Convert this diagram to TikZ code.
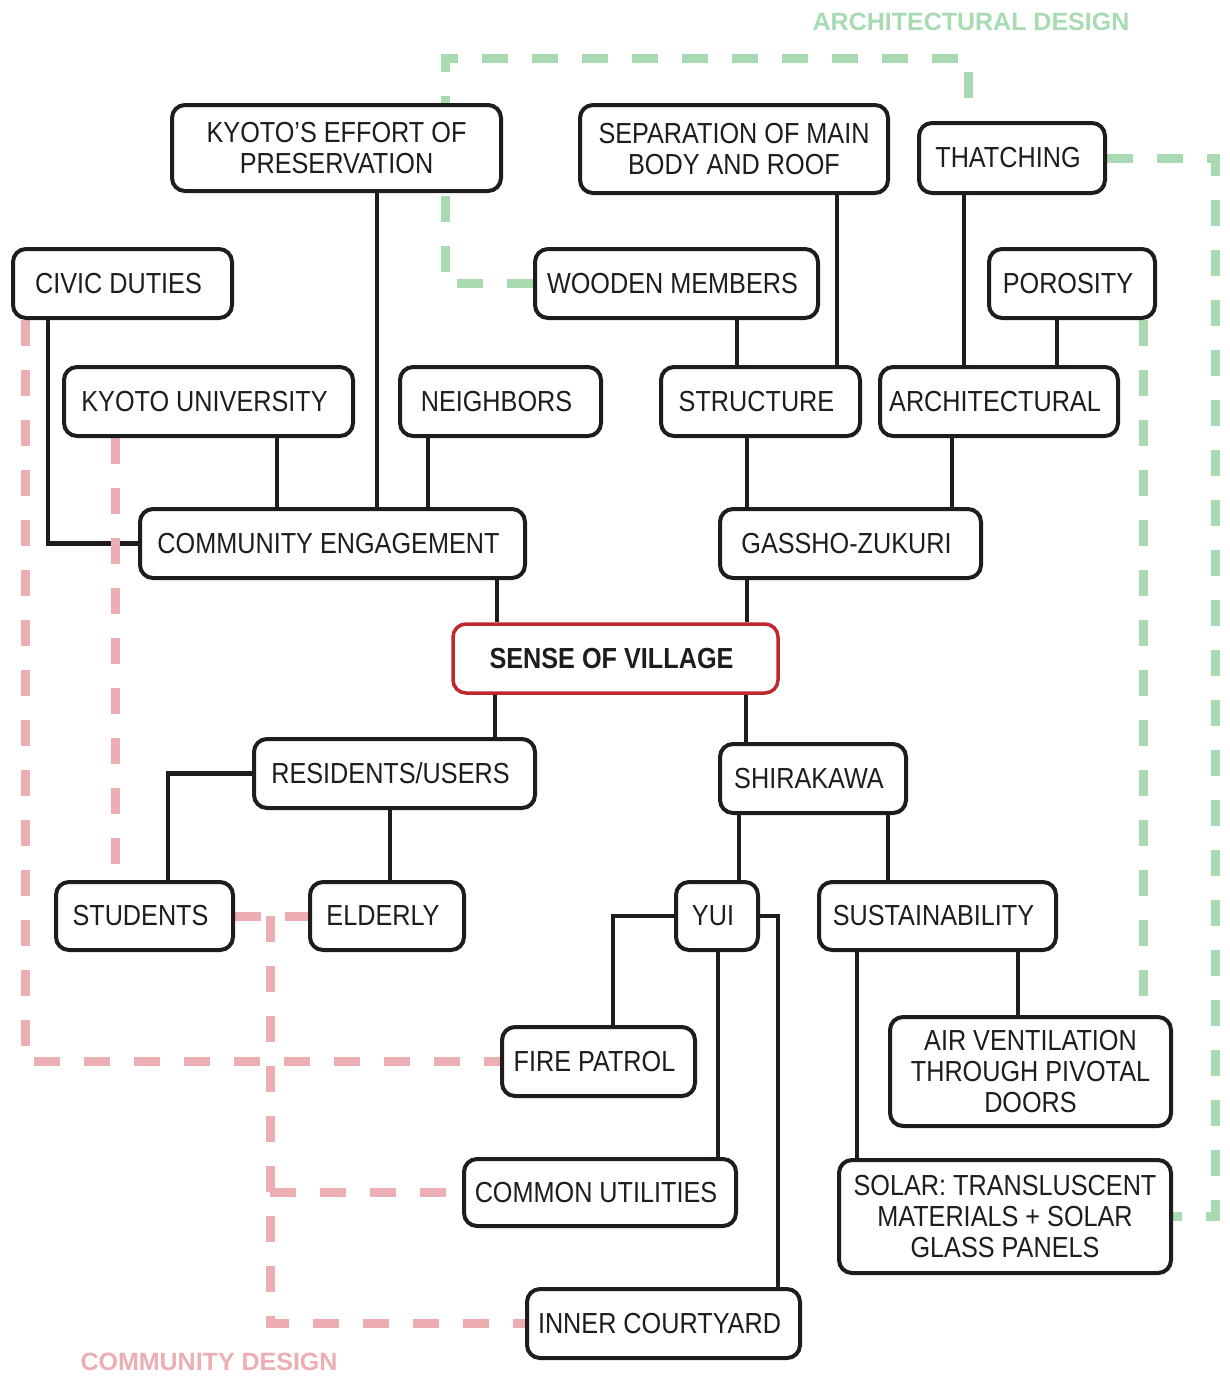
\documentclass[tikz,border=0pt]{standalone}
\usepackage{fontspec}
\setmainfont{Liberation Sans}[FakeStretch=0.87]
\newfontfamily\labelfont{Liberation Sans}
\definecolor{gr}{RGB}{168,219,178}
\definecolor{pk}{RGB}{236,174,178}
\definecolor{rd}{RGB}{192,40,48}
\definecolor{ink}{RGB}{30,28,29}
\pgfdeclarelayer{bg}
\pgfsetlayers{bg,main}
\begin{document}
\begin{tikzpicture}[x=1pt,y=-1pt,
 box/.style={draw=ink, line width=4pt, rounded corners=13pt, fill=white, inner sep=0pt,
   minimum height=69pt, align=center, font=\fontsize{29}{31}\selectfont, text=ink},
 sl/.style={execute at end node={\hspace*{8pt}}},
 conn/.style={draw=ink, line width=4.5pt},
 gdash/.style={draw=gr, line width=9pt, dash pattern=on 26pt off 24pt},
 pdash/.style={draw=pk, line width=9pt, dash pattern=on 26pt off 24pt},
 lab/.style={font=\labelfont\bfseries\fontsize{25}{28}\selectfont}
]
\useasboundingbox (0,0) rectangle (1230,1376);

\foreach \x in {25,48,115,168,270,277,377,390,428,495,497,613,718,737,739,746,747,778,837,857,888,952,964,968,1018,1057,1143,1215}
  {\coordinate (v\x) at (\x,0);}
\coordinate (g1) at (445,58);

\node[box, minimum width=329pt, minimum height=86pt] (kep) at (336.5,148) {KYOTO’S EFFORT OF\\PRESERVATION};
\node[box, minimum width=308pt, minimum height=88pt] (sep) at (734,149) {SEPARATION OF MAIN\\BODY AND ROOF};
\node[box, sl, minimum width=186pt, minimum height=70pt] (thatch) at (1012,158) {THATCHING};
\node[box, sl, minimum width=219pt] (civic) at (122.5,283.5) {CIVIC DUTIES};
\node[box, sl, minimum width=283pt] (wood) at (676.5,283.5) {WOODEN MEMBERS};
\node[box, sl, minimum width=166pt] (por) at (1072,283.5) {POROSITY};
\node[box, sl, minimum width=289pt] (kyu) at (208.5,401.5) {KYOTO UNIVERSITY};
\node[box, sl, minimum width=201pt] (nei) at (500.5,401.5) {NEIGHBORS};
\node[box, sl, minimum width=199pt] (struct) at (760.5,401.5) {STRUCTURE};
\node[box, sl, minimum width=238pt] (arch) at (999,401.5) {ARCHITECTURAL};
\node[box, sl, minimum width=385pt] (ce) at (332.5,543.5) {COMMUNITY ENGAGEMENT};
\node[box, sl, minimum width=261pt] (gas) at (850.5,543.5) {GASSHO-ZUKURI};
\node[box, sl, draw=rd, line width=3.5pt, minimum width=325pt, font=\bfseries\fontsize{29}{31}\selectfont] (sov) at (615.5,658.5) {SENSE OF VILLAGE};
\node[box, sl, minimum width=281pt] (res) at (394.5,773.5) {RESIDENTS/USERS};
\node[box, sl, minimum width=186pt] (shi) at (813,778.5) {SHIRAKAWA};
\node[box, sl, minimum width=177pt, minimum height=68pt] (stu) at (144.5,916) {STUDENTS};
\node[box, sl, minimum width=154pt, minimum height=68pt] (eld) at (387,916) {ELDERLY};
\node[box, sl, minimum width=82pt, minimum height=68pt] (yui) at (717,916) {YUI};
\node[box, sl, minimum width=237pt, minimum height=68pt] (sus) at (937.5,916) {SUSTAINABILITY};
\node[box, sl, minimum width=193pt] (fire) at (598.5,1061.5) {FIRE PATROL};
\node[box, minimum width=281pt, minimum height=109pt] (air) at (1030.5,1071.5) {AIR VENTILATION\\THROUGH PIVOTAL\\DOORS};
\node[box, sl, minimum width=272pt, minimum height=67pt] (common) at (600,1192.5) {COMMON UTILITIES};
\node[box, minimum width=332pt, minimum height=113pt] (solar) at (1005,1216.5) {SOLAR: TRANSLUSCENT\\MATERIALS + SOLAR\\GLASS PANELS};
\node[box, sl, minimum width=273pt] (inner) at (663.5,1323.5) {INNER COURTYARD};

\node[lab, text=gr] (archlab) at (971,22) {ARCHITECTURAL DESIGN};
\node[lab, text=pk] (commlab) at (209,1362) {COMMUNITY DESIGN};

\begin{pgfonlayer}{bg}
\draw[conn] (civic.south -| v48) |- (ce.west);
\draw[conn] (kyu.south -| v277) -- (ce.north -| v277);
\draw[conn] (kep.south -| v377) -- (ce.north -| v377);
\draw[conn] (nei.south -| v428) -- (ce.north -| v428);
\draw[conn] (ce.south -| v497) -- (sov.north -| v497);
\draw[conn] (wood.south -| v737) -- (struct.north -| v737);
\draw[conn] (sep.south -| v837) -- (struct.north -| v837);
\draw[conn] (thatch.south -| v964) -- (arch.north -| v964);
\draw[conn] (por.south -| v1057) -- (arch.north -| v1057);
\draw[conn] (struct.south -| v747) -- (gas.north -| v747);
\draw[conn] (arch.south -| v952) -- (gas.north -| v952);
\draw[conn] (gas.south -| v747) -- (sov.north -| v747);
\draw[conn] (sov.south -| v495) -- (res.north -| v495);
\draw[conn] (sov.south -| v746) -- (shi.north -| v746);
\draw[conn] (res.west) -| (stu.north -| v168);
\draw[conn] (res.south -| v390) -- (eld.north -| v390);
\draw[conn] (shi.south -| v739) -- (yui.north -| v739);
\draw[conn] (shi.south -| v888) -- (sus.north -| v888);
\draw[conn] (yui.west) -| (fire.north -| v613);
\draw[conn] (yui.south -| v718) -- (common.north -| v718);
\draw[conn] (yui.east) -| (inner.north -| v778);
\draw[conn] (sus.south -| v857) -- (solar.north -| v857);
\draw[conn] (sus.south -| v1018) -- (air.north -| v1018);

\draw[gdash] (wood.west) -| (g1) -| (thatch.north -| v968);
\draw[gdash] (thatch.east) -| (solar.east -| v1215) -- (solar.east);
\draw[gdash] (por.south -| v1143) -- (air.north -| v1143);
\draw[pdash] (civic.south -| v25) |- (fire.west);
\draw[pdash] (kyu.south -| v115) -- (stu.north -| v115);
\draw[pdash] (stu.east) -- (eld.west);
\draw[pdash] (stu.east -| v270) |- (inner.west);
\draw[pdash] (common.west -| v270) -- (common.west);
\end{pgfonlayer}
\end{tikzpicture}
\end{document}
